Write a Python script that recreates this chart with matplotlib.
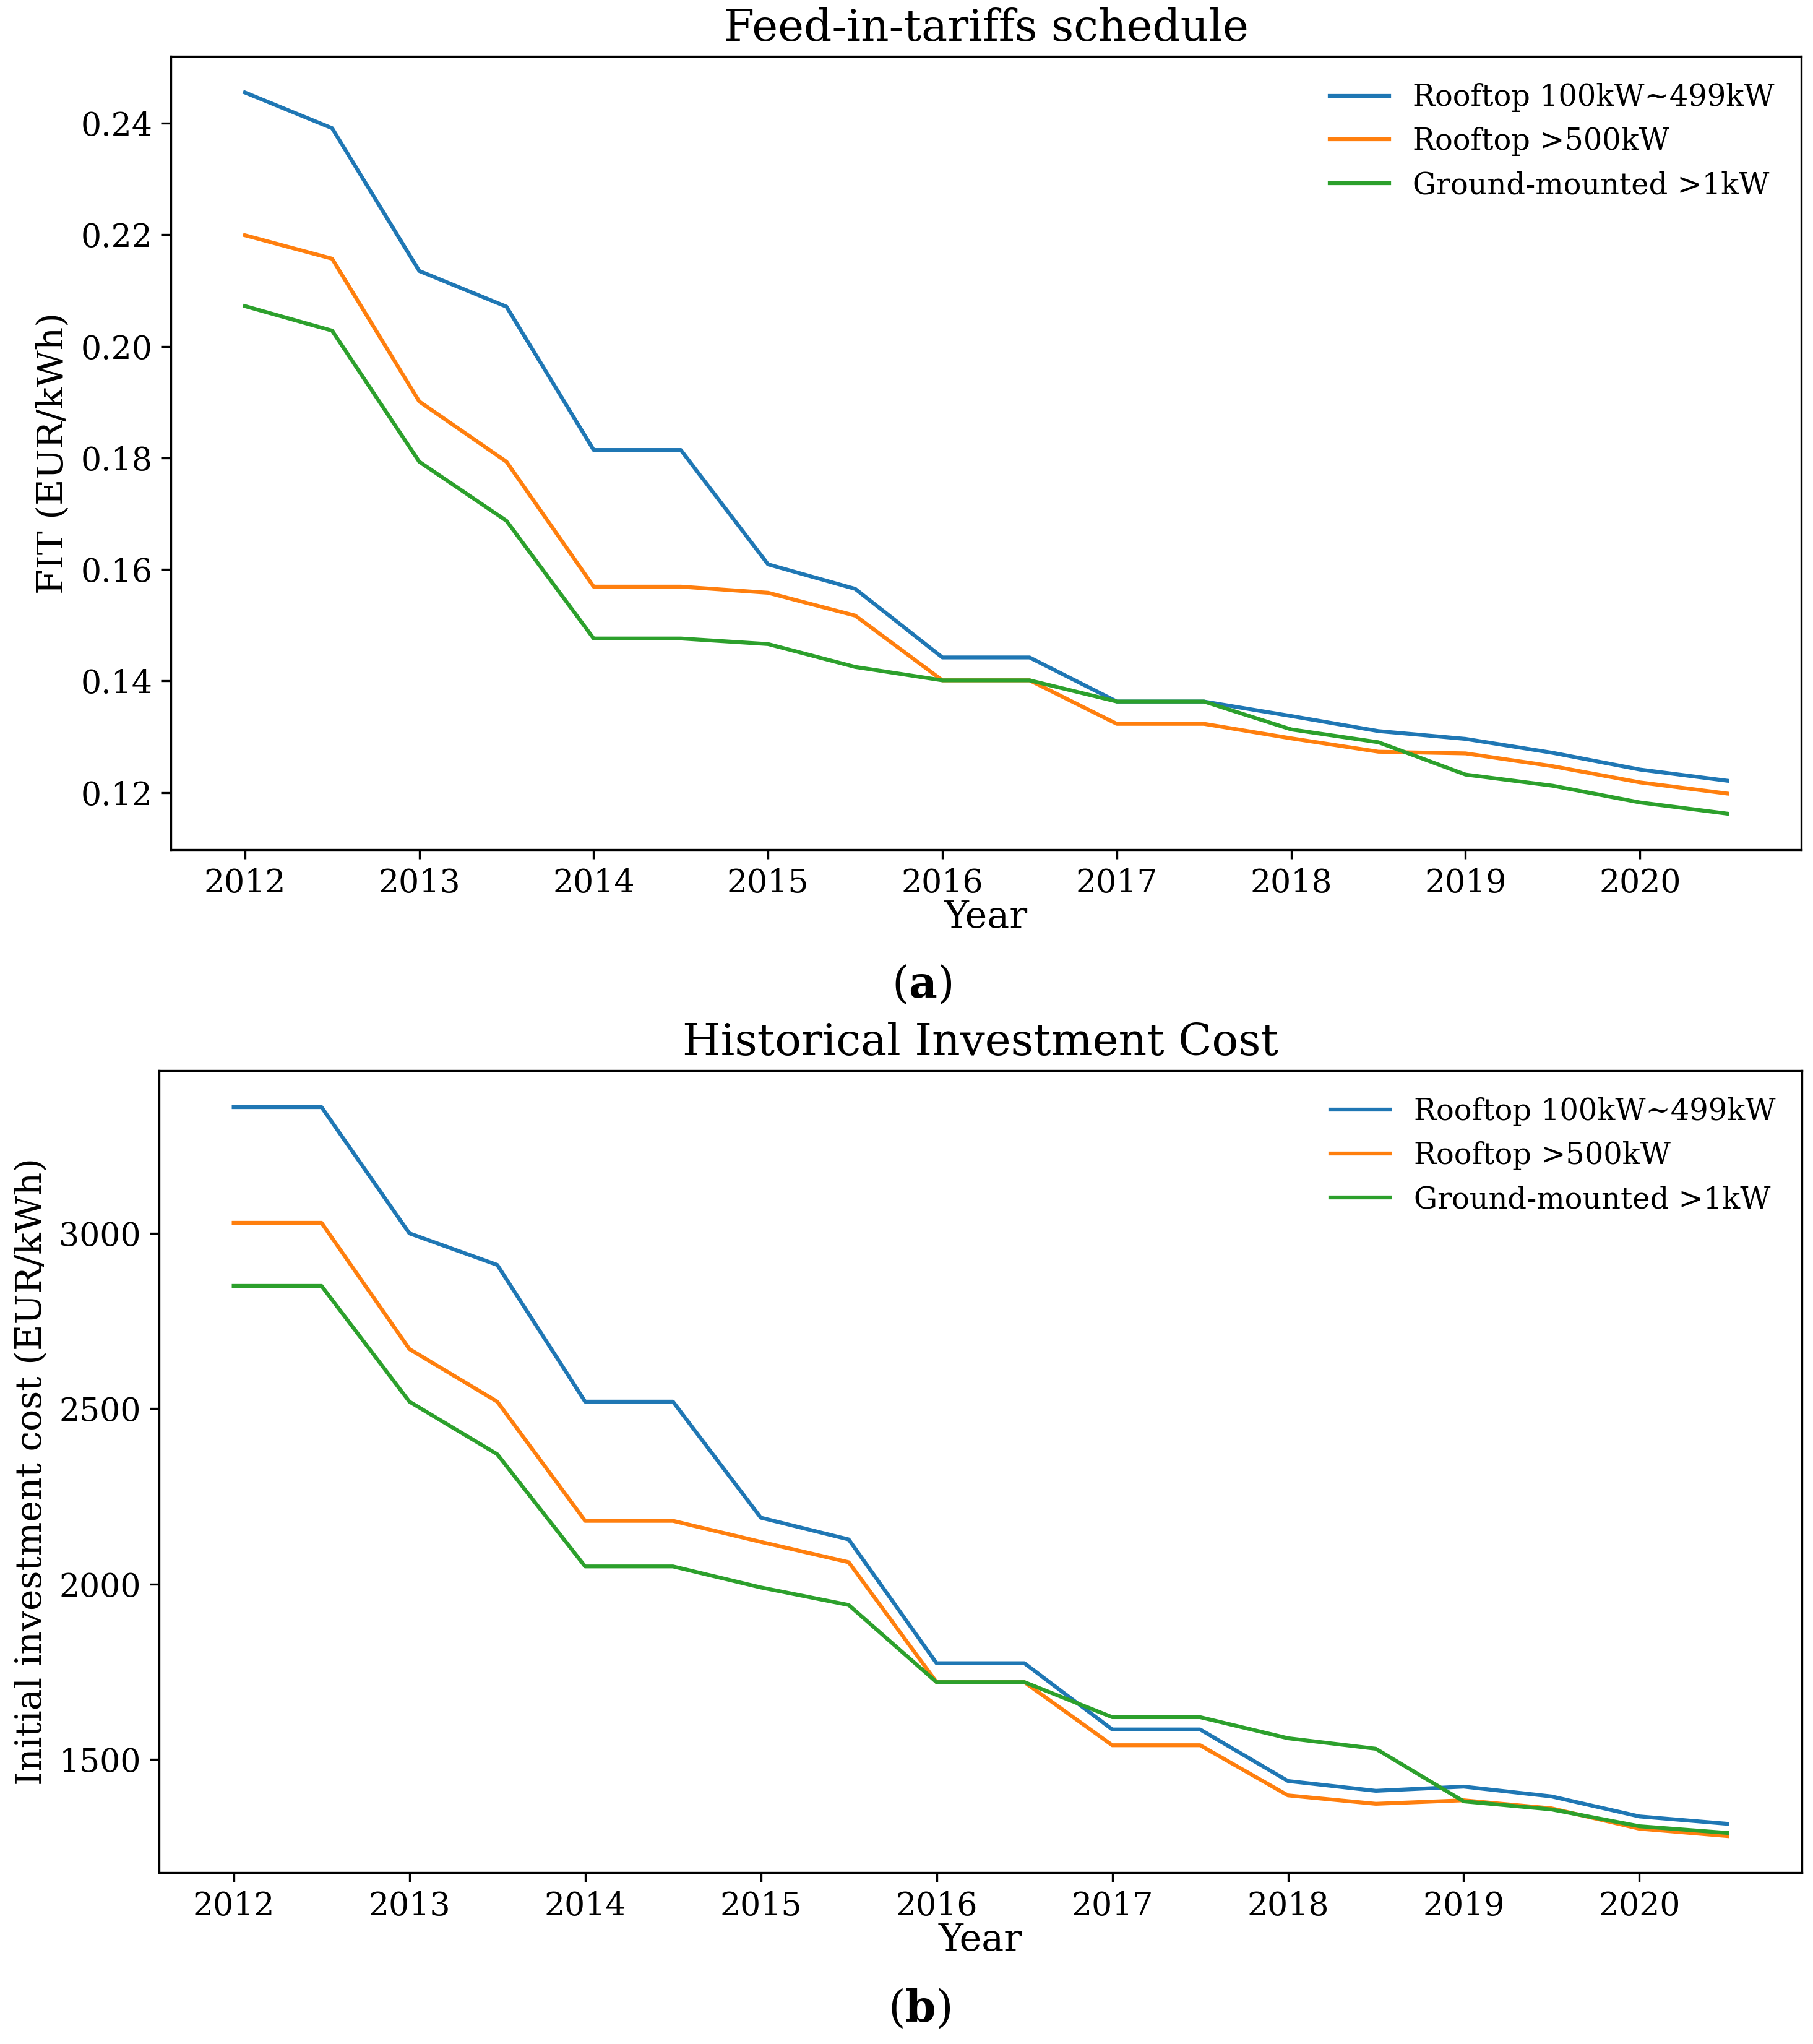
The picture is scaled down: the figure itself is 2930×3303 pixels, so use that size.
import matplotlib
matplotlib.use("Agg")
import matplotlib.pyplot as plt

plt.rcParams['font.family'] = ['DejaVu Serif']
plt.rcParams['mathtext.fontset'] = 'dejavuserif'

years = [2012, 2012.5, 2013, 2013.5, 2014, 2014.5, 2015, 2015.5, 2016, 2016.5,
         2017, 2017.5, 2018, 2018.5, 2019, 2019.5, 2020, 2020.5]
year_ticks = [2012, 2013, 2014, 2015, 2016, 2017, 2018, 2019, 2020]
labels = ['Rooftop 100kW~499kW', 'Rooftop >500kW', 'Ground-mounted >1kW']

# Feed-in tariffs (EUR/kWh)
fit_roof_small = [0.2455, 0.2391, 0.2135, 0.2071, 0.1814, 0.1814, 0.1609, 0.1565, 0.1442,
                  0.1442, 0.1363, 0.1363, 0.1337, 0.1310, 0.1296, 0.1271, 0.1241, 0.1221]
fit_roof_large = [0.2199, 0.2157, 0.1901, 0.1793, 0.1569, 0.1569, 0.1558, 0.1517, 0.1401,
                  0.1401, 0.1323, 0.1323, 0.1297, 0.1273, 0.1270, 0.1247, 0.1218, 0.1198]
fit_ground = [0.2072, 0.2028, 0.1793, 0.1687, 0.1476, 0.1476, 0.1466, 0.1425, 0.1401,
              0.1401, 0.1363, 0.1363, 0.1313, 0.1290, 0.1232, 0.1212, 0.1182, 0.1162]

# Investment cost (EUR/kWh)
cost_roof_small = [3360, 3360, 3000, 2910, 2520, 2520, 2189, 2127, 1774,
                   1774, 1585, 1585, 1438, 1410, 1422, 1394, 1337, 1316]
cost_roof_large = [3030, 3030, 2670, 2520, 2180, 2180, 2120, 2062, 1720,
                   1720, 1540, 1540, 1397, 1373, 1383, 1360, 1302, 1281]
cost_ground = [2850, 2850, 2520, 2370, 2050, 2050, 1990, 1940, 1720,
               1720, 1620, 1620, 1560, 1530, 1380, 1357, 1309, 1290]

fig = plt.figure(figsize=(2930 / 300, 3303 / 300), dpi=300)

# (a) feed-in tariffs
ax1 = fig.add_axes([0.0942, 0.5843, 0.8993, 0.3881])
ax1.plot(years, fit_roof_small, label=labels[0])
ax1.plot(years, fit_roof_large, label=labels[1])
ax1.plot(years, fit_ground, label=labels[2])
ax1.set_title('Feed-in-tariffs schedule', fontsize=17)
ax1.set_xlabel('Year', fontsize=14.5, labelpad=0)
ax1.set_ylabel('FIT (EUR/kWh)', fontsize=14)
ax1.set_xticks(year_ticks)
ax1.tick_params(labelsize=12.5)
ax1.legend(loc='upper right', frameon=False, fontsize=11.5)

# (b) investment cost
ax2 = fig.add_axes([0.0877, 0.0839, 0.9062, 0.3923])
ax2.plot(years, cost_roof_small, label=labels[0])
ax2.plot(years, cost_roof_large, label=labels[1])
ax2.plot(years, cost_ground, label=labels[2])
ax2.set_title('Historical Investment Cost', fontsize=17)
ax2.set_xlabel('Year', fontsize=14.5, labelpad=0)
ax2.set_ylabel('Initial investment cost (EUR/kWh)', fontsize=14)
ax2.set_xticks(year_ticks)
ax2.tick_params(labelsize=12.5)
ax2.legend(loc='upper right', frameon=False, fontsize=11.5)

fig.text(0.5086, 0.518, r'($\mathbf{a}$)', ha='center', va='center', fontsize=17)
fig.text(0.5072, 0.017, r'($\mathbf{b}$)', ha='center', va='center', fontsize=17)

fig.savefig('out.png', dpi=300)
